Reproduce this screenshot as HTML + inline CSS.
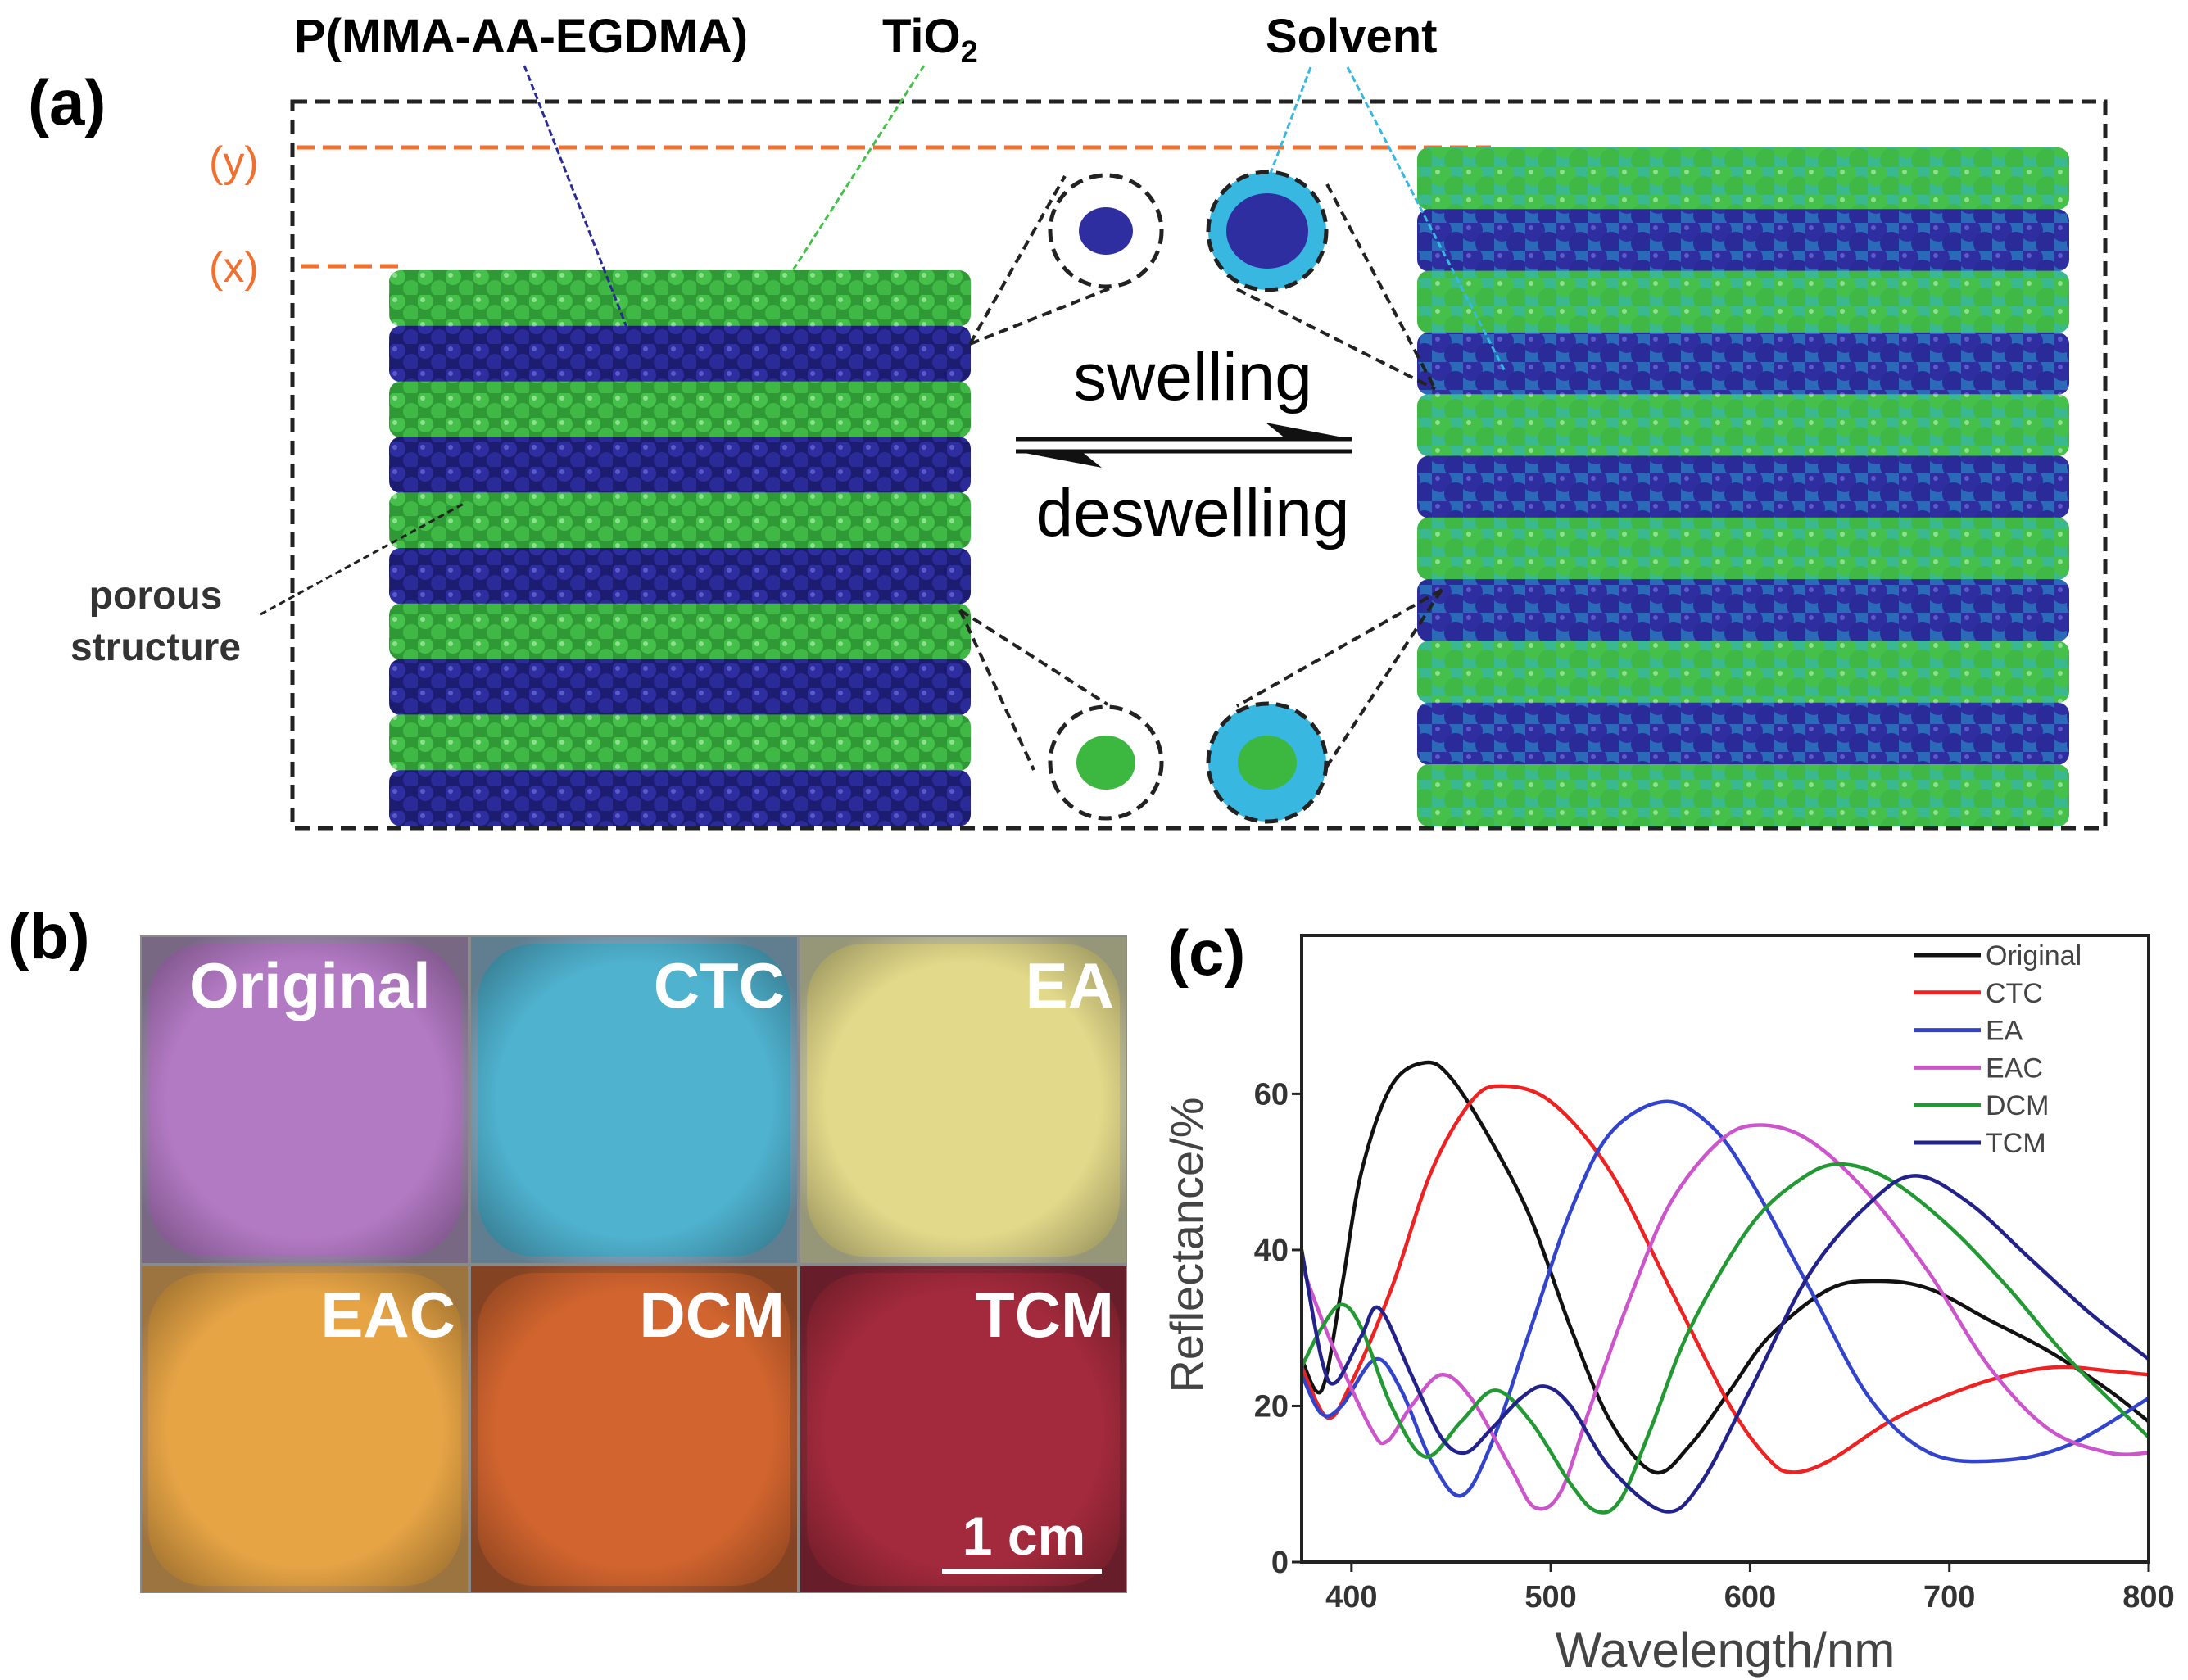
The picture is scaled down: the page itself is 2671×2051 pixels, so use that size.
<!DOCTYPE html>
<html><head><meta charset="utf-8"><style>
html,body{margin:0;padding:0;background:#fff;}
svg{display:block;font-family:"Liberation Sans",Arial,sans-serif;}
</style></head><body>
<svg id="fig" width="2671" height="2051" viewBox="0 0 2671 2051" xmlns="http://www.w3.org/2000/svg">
<defs>
<pattern id="pg" width="34" height="30" patternUnits="userSpaceOnUse"><rect width="34" height="30" fill="#2f9a35"/><circle cx="9" cy="8" r="10" fill="#45c04a"/><circle cx="26" cy="22" r="10" fill="#40b845"/><circle cx="6" cy="6" r="3" fill="#8ee08e"/></pattern>
<pattern id="pb" width="34" height="30" patternUnits="userSpaceOnUse"><rect width="34" height="30" fill="#1c1c70"/><circle cx="9" cy="8" r="10" fill="#2e2ea0"/><circle cx="26" cy="22" r="10" fill="#2a2a98"/><circle cx="6" cy="6" r="3" fill="#5a5ac8"/></pattern>
<pattern id="pbs" width="38" height="34" patternUnits="userSpaceOnUse"><rect width="38" height="34" fill="#2a6ab8"/><circle cx="10" cy="9" r="14" fill="#2e2ea0"/><circle cx="29" cy="25" r="14" fill="#2a2a98"/><circle cx="7" cy="6" r="3" fill="#5a5ac8"/></pattern>
<pattern id="pgs" width="38" height="34" patternUnits="userSpaceOnUse"><rect width="38" height="34" fill="#3ab890"/><circle cx="10" cy="9" r="14" fill="#45c04a"/><circle cx="29" cy="25" r="14" fill="#40b845"/><circle cx="7" cy="6" r="3" fill="#8ee08e"/></pattern>
<radialGradient id="tileShade" cx="50%" cy="50%" r="60%"><stop offset="70%" stop-color="#000" stop-opacity="0"/><stop offset="100%" stop-color="#000" stop-opacity="0.25"/></radialGradient>
</defs>

<!-- Panel a -->
<text x="34" y="152" font-size="78" font-weight="bold">(a)</text>
<rect x="357" y="124" width="2213" height="887" fill="none" stroke="#222" stroke-width="5" stroke-dasharray="18,10"/>
<line x1="362" y1="180" x2="1820" y2="180" stroke="#f07030" stroke-width="5" stroke-dasharray="22,10"/>
<line x1="368" y1="325" x2="488" y2="325" stroke="#f07030" stroke-width="5" stroke-dasharray="22,10"/>
<text x="255" y="215" font-size="52" fill="#f07030">(y)</text>
<text x="255" y="344" font-size="52" fill="#f07030">(x)</text>
<g id="leftBlock"></g>
<g id="rightBlock"></g>
<text x="359" y="64" font-size="58" font-weight="bold">P(MMA-AA-EGDMA)</text>
<text x="1077" y="64" font-size="58" font-weight="bold">TiO<tspan font-size="38" dy="12">2</tspan></text>
<text x="1545" y="64" font-size="58" font-weight="bold">Solvent</text>
<line x1="640" y1="80" x2="766" y2="402" stroke="#2a2a98" stroke-width="3" stroke-dasharray="8,4"/>
<line x1="1128" y1="80" x2="966" y2="333" stroke="#45c04a" stroke-width="3" stroke-dasharray="8,4"/>
<line x1="1600" y1="82" x2="1550" y2="214" stroke="#38b8e0" stroke-width="3" stroke-dasharray="8,4"/>
<line x1="1645" y1="82" x2="1837" y2="453" stroke="#38b8e0" stroke-width="3" stroke-dasharray="8,4"/>
<line x1="318" y1="750" x2="566" y2="615" stroke="#222" stroke-width="3" stroke-dasharray="8,5"/>
<text x="190" y="743" font-size="48" font-weight="bold" fill="#333" text-anchor="middle">porous</text>
<text x="190" y="806" font-size="48" font-weight="bold" fill="#333" text-anchor="middle">structure</text>
<g stroke="#222" stroke-width="4" stroke-dasharray="12,7" fill="none">
<line x1="1184" y1="420" x2="1300" y2="215"/><line x1="1184" y1="420" x2="1360" y2="350"/>
<line x1="1620" y1="225" x2="1752" y2="475"/><line x1="1510" y1="353" x2="1752" y2="475"/>
<line x1="1172" y1="745" x2="1262" y2="940"/><line x1="1172" y1="745" x2="1352" y2="860"/>
<line x1="1760" y1="720" x2="1510" y2="862"/><line x1="1760" y1="720" x2="1617" y2="940"/>
</g>
<circle cx="1350" cy="282" r="68" fill="#fff" stroke="#222" stroke-width="5" stroke-dasharray="16,9"/>
<ellipse cx="1350" cy="282" rx="33" ry="29" fill="#2e2ea0"/>
<circle cx="1547" cy="282" r="72" fill="#38b8e0" stroke="#222" stroke-width="5" stroke-dasharray="16,9"/>
<ellipse cx="1547" cy="282" rx="50" ry="46" fill="#2e2ea0"/>
<circle cx="1350" cy="931" r="68" fill="#fff" stroke="#222" stroke-width="5" stroke-dasharray="16,9"/>
<ellipse cx="1350" cy="931" rx="36" ry="33" fill="#3cb840"/>
<circle cx="1547" cy="931" r="72" fill="#38b8e0" stroke="#222" stroke-width="5" stroke-dasharray="16,9"/>
<ellipse cx="1547" cy="931" rx="36" ry="33" fill="#3cb840"/>
<text x="1456" y="488" font-size="82" text-anchor="middle">swelling</text>
<text x="1456" y="654" font-size="82" text-anchor="middle">deswelling</text>
<line x1="1240" y1="536" x2="1650" y2="536" stroke="#111" stroke-width="5"/>
<polygon points="1650,536 1545,516 1570,536" fill="#111"/>
<line x1="1240" y1="551" x2="1650" y2="551" stroke="#111" stroke-width="5"/>
<polygon points="1240,551 1345,571 1320,551" fill="#111"/>

<!-- Panel b -->
<text x="10" y="1170" font-size="78" font-weight="bold">(b)</text>
<g id="photos"></g>
<line x1="1150" y1="1918" x2="1345" y2="1918" stroke="#fff" stroke-width="6"/>
<text x="1250" y="1898" font-size="66" font-weight="bold" fill="#fff" text-anchor="middle">1 cm</text>

<!-- Panel c -->
<text x="1425" y="1190" font-size="78" font-weight="bold">(c)</text>
<g id="chart"></g>
</svg>
<script>
const NS="http://www.w3.org/2000/svg";
function mk(tag,attrs,parent){const e=document.createElementNS(NS,tag);for(const k in attrs)e.setAttribute(k,attrs[k]);parent.appendChild(e);return e;}

const lb=document.getElementById('leftBlock');
for(let i=0;i<10;i++){const r=mk('rect',{x:475,y:330+i*67.8,width:710,height:68.5,rx:14,fill:i%2?'url(#pb)':'url(#pg)'},lb);

}
const rb=document.getElementById('rightBlock');
for(let i=0;i<11;i++){const r=mk('rect',{x:1730,y:180+i*75.3,width:796,height:76,rx:14,fill:i%2?'url(#pbs)':'url(#pgs)'},rb);

}

const ph=document.getElementById('photos');
const photoLabels=['Original','CTC','EA','EAC','DCM','TCM'];
const photoColors=['#b37ac4','#4fb2cf','#e2d98a','#e6a445','#d2652f','#a32a3c'];
const photoEdge=['#a08ab0','#80a8c0','#c8c8a0','#d09a55','#b05a30','#8a2838'];
mk('rect',{x:171,y:1142,width:1205,height:803,fill:'#8a8a8a'},ph);
for(let i=0;i<6;i++){const c=i%3,r=Math.floor(i/3);const x=171+c*402,y=1142+r*402;
 const g=mk('g',{},ph);
 
 
 mk('rect',{x:x+2,y:y+2,width:398,height:398,fill:photoEdge[i]},g);
 mk('rect',{x:x+10,y:y+10,width:382,height:382,rx:70,fill:photoColors[i]},g);
 mk('rect',{x:x+2,y:y+2,width:398,height:398,fill:'url(#tileShade)'},g);
 const t=mk('text',{x:c==0&&r==0?x+60:x+385,y:y+88,'font-size':78,'font-weight':'bold',fill:'#fff','text-anchor':c==0&&r==0?'start':'end'},g);
 t.textContent=photoLabels[i];
 
 }

const seriesNames=['Original','CTC','EA','EAC','DCM','TCM'];
const seriesColors=['#111111','#ee2222','#3344cc','#cc55cc','#229933','#22228a'];
const xOriginal=[375,385,395,405,420,437,450,470,490,510,530,552,570,590,610,640,665,690,720,750,780,800];
const yOriginal=[26,22,35,50,61,64,62,54,44,30,18,11.5,15,22,29,35,36,35,31,27,22,18];
const xCTC=[375,388,400,420,440,460,475,500,530,560,590,610,622,640,670,700,730,755,780,800];
const yCTC=[25,18.5,23,35,50,59,61,59,50,35,20,13,11.5,13,18,21.5,24,25,24.5,24];
const xEA=[375,385,395,412,425,440,455,470,490,510,530,557,580,600,630,660,690,725,760,800];
const yEA=[24,19,20,26,22,13,8.5,15,30,45,55,59,56,49,35,21,14,13,15,21];
const xEAC=[375,390,410,418,430,445,460,480,492,505,520,540,560,585,605,630,660,690,720,750,780,800];
const yEAC=[38,28,17,15.5,20,24,21,12,7,9,20,34,46,54,56,54,47,37,25,17,14,14];
const xDCM=[375,385,395,405,420,437,455,472,490,510,523,535,550,570,600,625,645,670,700,730,760,800];
const yDCM=[25,30,33,30,20,13.5,18,22,18,10,6.5,8,17,30,43,49,51,49,43,35,26,16];
const xTCM=[375,385,392,405,414,430,445,457,470,485,497,510,530,557,575,600,630,660,683,710,740,770,800];
const yTCM=[40,26,23,29,32.5,24,16,14,17,21,22.5,20,12,6.5,10,22,37,46,49.5,46,39,32,26];
const xs=[xOriginal,xCTC,xEA,xEAC,xDCM,xTCM];
const ys=[yOriginal,yCTC,yEA,yEAC,yDCM,yTCM];
const xTicks=[400,500,600,700,800];
const yTicks=[0,20,40,60];

const L=1589,R=2623,T=1142,B=1907;
const X0=375,X1=800,Y0=0,Y1=80.3;
function sx(v){return L+(v-X0)/(X1-X0)*(R-L);}
function sy(v){return B-(v-Y0)/(Y1-Y0)*(B-T);}
const ch=document.getElementById('chart');
const clip=mk('clipPath',{id:'pc'},ch);mk('rect',{x:L,y:T,width:R-L,height:B-T},clip);
function smooth(px,py){let d='M'+px[0]+','+py[0];
 for(let i=0;i<px.length-1;i++){const x0=px[i-1]??px[i],y0=py[i-1]??py[i],x3=px[i+2]??px[i+1],y3=py[i+2]??py[i+1];
  const c1x=px[i]+(px[i+1]-x0)/6,c1y=py[i]+(py[i+1]-y0)/6,c2x=px[i+1]-(x3-px[i])/6,c2y=py[i+1]-(y3-py[i])/6;
  d+=' C'+c1x+','+c1y+' '+c2x+','+c2y+' '+px[i+1]+','+py[i+1];}
 return d;}
for(let s=0;s<6;s++){
 const p=mk('path',{d:smooth(xs[s].map(sx),ys[s].map(sy)),fill:'none',stroke:seriesColors[s],'stroke-width':4.5,'clip-path':'url(#pc)'},ch);
 
 }
const frame=mk('rect',{x:L,y:T,width:R-L,height:B-T,fill:'none',stroke:'#222','stroke-width':4},ch);


xTicks.forEach(v=>{mk('line',{x1:sx(v),y1:B,x2:sx(v),y2:B+12,stroke:'#222','stroke-width':3},ch);
 const t=mk('text',{x:sx(v),y:B+55,'font-size':38,'font-weight':'bold',fill:'#333','text-anchor':'middle'},ch);t.textContent=v;
 
 });
yTicks.forEach(v=>{mk('line',{x1:L-12,y1:sy(v),x2:L,y2:sy(v),stroke:'#222','stroke-width':3},ch);
 const t=mk('text',{x:L-16,y:sy(v)+13,'font-size':38,'font-weight':'bold',fill:'#333','text-anchor':'end'},ch);t.textContent=v;
 
 });
const xt=mk('text',{x:(L+R)/2,y:2035,'font-size':60,fill:'#444','text-anchor':'middle'},ch);xt.textContent='Wavelength/nm';


const yt=mk('text',{x:0,y:0,'font-size':56,fill:'#444','text-anchor':'middle',transform:'translate(1468,1520) rotate(-90)'},ch);yt.textContent='Reflectance/%';


for(let s=0;s<6;s++){const y=1166+s*45.8;
 const g=mk('g',{},ch);
 
 
 mk('line',{x1:2336,y1:y,x2:2418,y2:y,stroke:seriesColors[s],'stroke-width':5},g);
 const t=mk('text',{x:2424,y:y+12,'font-size':34,fill:'#444'},g);t.textContent=seriesNames[s];}
</script>
</body></html>
